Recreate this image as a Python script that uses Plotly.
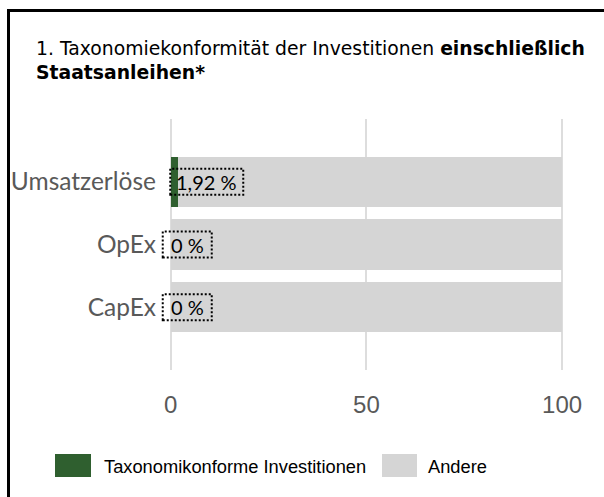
import plotly.graph_objects as go

# --- data ---
categories = ["Umsatzerlöse", "OpEx", "CapEx"]
aligned_pct = [1.92, 0.0, 0.0]
other_pct = [98.08, 100.0, 100.0]
label_texts = ["1,92 %", "0 %", "0 %"]
x_ticks = [0, 50, 100]
series_names = ["Taxonomikonforme Investitionen", "Andere"]

GREEN = "#2F5F2F"
GRAY = "#D5D5D5"
TXT_GRAY = "#595959"

W, H = 604, 497
L, R, T, B = 159, 566, 119, 370  # plot area in pixels
X_RANGE = [-3, 101]


def px_x(p):
    return (p - L) / (R - L)


def px_y(p):
    return (B - p) / (B - T)


fig = go.Figure()
fig.add_trace(go.Bar(y=categories, x=aligned_pct, orientation="h", name=series_names[0],
                     marker=dict(color=GREEN, line=dict(width=0)), showlegend=False))
fig.add_trace(go.Bar(y=categories, x=other_pct, orientation="h", name=series_names[1],
                     marker=dict(color=GRAY, line=dict(width=0)), showlegend=False))

shapes = []
annotations = []

# value labels in dotted boxes, anchored at the end of the green segment
for i, (cat, v, t) in enumerate(zip(categories, aligned_pct, label_texts)):
    idx = len(categories) - 1 - i
    w = 8 * len(t) + 25
    x0 = -8
    shapes.append(dict(type="rect", xref="x", yref="y",
                       xsizemode="pixel", xanchor=v, x0=x0, x1=x0 + w,
                       ysizemode="pixel", yanchor=idx, y0=-13, y1=13,
                       line=dict(color="black", width=2, dash="2px,2px"),
                       fillcolor="rgba(0,0,0,0)", layer="above"))
    annotations.append(dict(x=v, y=idx, xref="x", yref="y", text=t, showarrow=False,
                            xanchor="center", yanchor="middle", xshift=x0 + w / 2,
                            font=dict(family="Lato", size=20, color="black")))

# frame lines
shapes.append(dict(type="line", xref="paper", yref="paper",
                   x0=px_x(8.5), x1=px_x(W + 5), y0=px_y(10.5), y1=px_y(10.5),
                   line=dict(color="black", width=3)))
shapes.append(dict(type="line", xref="paper", yref="paper",
                   x0=px_x(8.5), x1=px_x(8.5), y0=px_y(9), y1=px_y(H + 5),
                   line=dict(color="black", width=3)))

# legend
legend_items = [(series_names[0], GREEN, 55, 91, 102), (series_names[1], GRAY, 382, 417, 426)]
for name, col, sx0, sx1, tx in legend_items:
    shapes.append(dict(type="rect", xref="paper", yref="paper",
                       x0=px_x(sx0), x1=px_x(sx1), y0=px_y(477), y1=px_y(454),
                       fillcolor=col, line=dict(width=0)))
    annotations.append(dict(x=px_x(tx), y=px_y(466), xref="paper", yref="paper", text=name,
                            showarrow=False, xanchor="left", yanchor="middle",
                            font=dict(family="Liberation Sans, Arial", size=18.3, color="black")))

# title
annotations.append(dict(x=px_x(34), y=px_y(36), xref="paper", yref="paper",
                        text="1. Taxonomiekonformität der Investitionen <b>einschließlich</b><br><b>Staatsanleihen*</b>",
                        showarrow=False, xanchor="left", yanchor="top", align="left",
                        font=dict(family="DejaVu Sans", size=18.8, color="black")))

fig.update_layout(
    width=W, height=H,
    margin=dict(l=L, r=W - R, t=T, b=H - B, pad=0),
    paper_bgcolor="white", plot_bgcolor="white",
    barmode="stack", bargap=0.2,
    showlegend=False,
    shapes=shapes, annotations=annotations,
    xaxis=dict(range=X_RANGE, tickvals=x_ticks, showgrid=True, gridcolor="#DDDDDD", gridwidth=2,
               zeroline=False, showline=False, ticks="", ticklabelstandoff=18,
               tickfont=dict(family="Liberation Sans, Arial", size=24, color=TXT_GRAY)),
    yaxis=dict(type="category", categoryorder="array", categoryarray=categories[::-1],
               range=[-1, 3], showgrid=False, zeroline=False, showline=False, ticks="",
               ticklabelstandoff=2,
               tickfont=dict(family="Lato", size=24.5, color=TXT_GRAY)),
)

fig.write_html("out.html")
